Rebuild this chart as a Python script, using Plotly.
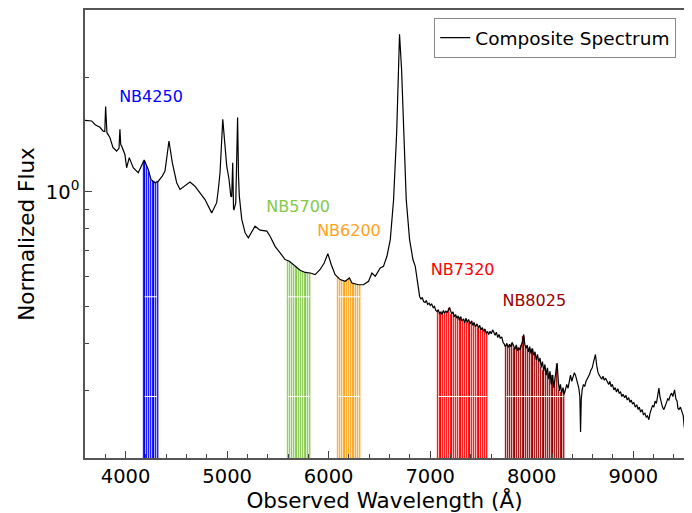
import numpy as np
import plotly.graph_objects as go

# ---- Composite spectrum (wavelength in Angstrom, normalized flux) ----
wavelength = [
    3600, 3665, 3700, 3747, 3779, 3795, 3803, 3811, 3816, 3845, 3875, 3911, 3935, 3944, 3952,
    3961, 3993, 4010, 4036, 4075, 4124, 4183, 4223, 4250, 4289, 4322, 4361, 4388, 4427, 4460,
    4503, 4536, 4585, 4634, 4683, 4733, 4782, 4848, 4897, 4913, 4930, 4957, 4979, 4996, 5019,
    5036, 5045, 5055, 5063, 5068, 5085, 5096, 5103, 5112, 5120, 5144, 5177, 5209, 5243, 5275,
    5324, 5391, 5423, 5472, 5522, 5571, 5613, 5670, 5719, 5768, 5818, 5867, 5916, 5956, 5992,
    6025, 6064, 6113, 6163, 6205, 6229, 6294, 6343, 6393, 6426, 6459, 6508, 6540, 6574, 6607,
    6639, 6670, 6685, 6698, 6718, 6738, 6764, 6797, 6830,
    6853, 6865, 6876, 6886, 6896, 6910, 6922, 6935, 6950, 6962, 6975, 6990, 7001, 7015, 7030,
    7042, 7055, 7067, 7080, 7092, 7105, 7116, 7130, 7142, 7155, 7168, 7180, 7191, 7200, 7212,
    7225, 7237, 7250, 7262, 7275, 7288, 7300, 7313, 7329, 7340, 7352, 7365, 7378, 7395, 7408,
    7420, 7432, 7445, 7462, 7475, 7488, 7500, 7513, 7527, 7540, 7552, 7565, 7576, 7590, 7602,
    7615, 7625, 7640, 7652, 7665, 7678, 7691, 7705, 7718, 7730, 7741, 7755, 7768, 7782, 7795,
    7808, 7822, 7835, 7848, 7860, 7872, 7885, 7898, 7910, 7921, 7932, 7945, 7955, 7968, 7980,
    7993, 8005, 8020, 8032, 8045, 8057, 8069, 8082, 8094, 8106, 8118, 8130, 8142, 8155, 8168,
    8180, 8192, 8205, 8217, 8228, 8240, 8250, 8262, 8272, 8283, 8295, 8308, 8320, 8332, 8345,
    8358, 8370, 8382, 8395, 8408, 8420, 8431, 8445, 8455, 8464, 8474, 8481, 8488, 8497, 8510,
    8522, 8535, 8546, 8558, 8570, 8582, 8596, 8610, 8620, 8628, 8640, 8652, 8665, 8678, 8690,
    8702, 8715, 8728, 8744, 8758, 8770, 8782, 8795, 8809, 8822, 8835, 8848, 8862, 8875, 8888,
    8900, 8915, 8928, 8941, 8955, 8968, 8980, 8993, 9006, 9020, 9035, 9048, 9060, 9072, 9088,
    9100, 9115, 9128, 9140, 9154, 9165, 9178, 9190, 9203, 9215, 9228, 9240, 9253, 9263, 9275,
    9288, 9302, 9315, 9328, 9340, 9351, 9365, 9378, 9390, 9407, 9420, 9432, 9440, 9450, 9465,
    9480, 9493, 9500, 9506,
]
flux = [
    1.540, 1.534, 1.500, 1.476, 1.443, 1.440, 1.674, 1.430, 1.429, 1.389, 1.308, 1.279, 1.300, 1.459, 1.330,
    1.318, 1.253, 1.156, 1.229, 1.156, 1.122, 1.211, 1.145, 1.077, 1.056, 1.066, 1.099, 1.133, 1.359, 1.192,
    1.056, 1.014, 1.034, 1.060, 1.034, 0.994, 0.954, 0.880, 0.936, 1.014, 1.122, 1.549, 1.318, 1.168, 1.077,
    0.974, 0.970, 1.192, 0.900, 0.898, 0.936, 1.200, 1.566, 1.100, 0.974, 0.846, 0.780, 0.757, 0.788, 0.812,
    0.793, 0.788, 0.764, 0.719, 0.691, 0.664, 0.657, 0.637, 0.622, 0.614, 0.612, 0.606, 0.625, 0.650, 0.688,
    0.644, 0.606, 0.588, 0.582, 0.594, 0.576, 0.570, 0.570, 0.582, 0.612, 0.600, 0.631, 0.637, 0.677, 0.749,
    0.950, 1.430, 2.100, 2.590, 2.100, 1.400, 0.954, 0.749, 0.664,
    0.637, 0.600, 0.576, 0.545, 0.531, 0.522, 0.528, 0.515, 0.512, 0.518, 0.506, 0.510, 0.503, 0.507, 0.496,
    0.500, 0.488, 0.485, 0.490, 0.478, 0.484, 0.476, 0.488, 0.480, 0.486, 0.482, 0.492, 0.497, 0.488, 0.478,
    0.484, 0.470, 0.476, 0.466, 0.472, 0.460, 0.470, 0.458, 0.464, 0.452, 0.466, 0.454, 0.462, 0.450, 0.458,
    0.446, 0.454, 0.442, 0.450, 0.438, 0.446, 0.434, 0.440, 0.430, 0.436, 0.425, 0.430, 0.422, 0.430, 0.424,
    0.434, 0.428, 0.420, 0.428, 0.414, 0.422, 0.412, 0.416, 0.402, 0.398, 0.392, 0.400, 0.390, 0.398, 0.392,
    0.402, 0.394, 0.386, 0.396, 0.382, 0.390, 0.384, 0.396, 0.405, 0.422, 0.398, 0.388, 0.396, 0.380, 0.392,
    0.376, 0.388, 0.372, 0.380, 0.362, 0.374, 0.358, 0.366, 0.346, 0.358, 0.338, 0.352, 0.330, 0.345, 0.322,
    0.338, 0.312, 0.330, 0.306, 0.322, 0.345, 0.355, 0.318, 0.300, 0.312, 0.296, 0.306, 0.294, 0.302, 0.312,
    0.305, 0.322, 0.330, 0.318, 0.326, 0.335, 0.330, 0.320, 0.310, 0.305, 0.290, 0.234, 0.285, 0.302, 0.312,
    0.308, 0.318, 0.322, 0.328, 0.332, 0.340, 0.345, 0.358, 0.372, 0.374, 0.350, 0.336, 0.330, 0.325, 0.322,
    0.328, 0.320, 0.324, 0.316, 0.312, 0.318, 0.308, 0.312, 0.302, 0.306, 0.298, 0.304, 0.296, 0.298, 0.290,
    0.294, 0.288, 0.292, 0.284, 0.288, 0.280, 0.284, 0.277, 0.280, 0.272, 0.276, 0.268, 0.272, 0.264, 0.268,
    0.260, 0.262, 0.256, 0.258, 0.252, 0.262, 0.268, 0.275, 0.272, 0.282, 0.278, 0.290, 0.305, 0.290, 0.278,
    0.272, 0.268, 0.276, 0.280, 0.286, 0.284, 0.292, 0.296, 0.290, 0.302, 0.286, 0.282, 0.270, 0.268, 0.272,
    0.264, 0.258, 0.245, 0.238,
]

# ---- Narrow-band filters ----
band_names = ["NB4250", "NB5700", "NB6200", "NB7320", "NB8025"]
band_lo = [4175, 5585, 6080, 7068, 7732]
band_hi = [4322, 5826, 6320, 7570, 8326]
band_colors = ["#0000ff", "#85c94a", "#ffa31a", "#ff0000", "#9b0000"]
label_wl = [4250, 5700, 6200, 7320, 8025]
label_flux = [1.76, 0.909, 0.786, 0.621, 0.514]
white_levels = [0.53, 0.29]

x_ticks = [4000, 5000, 6000, 7000, 8000, 9000]
y_minor = [0.2, 0.3, 0.4, 0.5, 0.6, 0.7, 0.8, 0.9, 2, 3]

FONT = "DejaVu Sans"
wl = np.array(wavelength, dtype=float)
fl = np.array(flux, dtype=float)
step = 22.0

fig = go.Figure()

for name, lo, hi, col in zip(band_names, band_lo, band_hi, band_colors):
    xs = np.arange(lo + step / 2, hi, step)
    ys = np.interp(xs, wl, fl)
    fig.add_trace(go.Bar(
        x=xs, y=ys, width=step, marker=dict(color=col, line=dict(color="white", width=0.6)),
        showlegend=False, hoverinfo="skip"))
    for lev in white_levels:
        if ys.min() > lev:
            fig.add_trace(go.Scatter(
                x=[lo + 12, hi - 12], y=[lev, lev], mode="lines",
                line=dict(color="white", width=1), showlegend=False, hoverinfo="skip"))

fig.add_trace(go.Scatter(
    x=wavelength, y=flux, mode="lines", name="Composite Spectrum",
    line=dict(color="black", width=1.2)))

for name, x0, y0, col in zip(band_names, label_wl, label_flux, band_colors):
    fig.add_trace(go.Scatter(
        x=[x0], y=[y0], mode="text", text=[name], textposition="middle center",
        textfont=dict(family=FONT, size=16, color=col), showlegend=False, hoverinfo="skip"))

# page body has an 8px margin, so the figure is sized to fit the window
fig.update_layout(
    width=684, height=505,
    margin=dict(l=77, r=8, t=2, b=55),
    plot_bgcolor="white", paper_bgcolor="white",
    bargap=0,
    font=dict(family=FONT, color="black"),
    legend=dict(x=0.987, y=0.982, xanchor="right", yanchor="top",
                bgcolor="white", bordercolor="#888888", borderwidth=1,
                font=dict(family=FONT, size=18.5)),
)
fig.update_xaxes(
    range=[3600, 9500], showgrid=False, zeroline=False,
    tickvals=x_ticks, ticks="inside", ticklen=7, tickwidth=1.2, tickcolor="#444",
    minor=dict(dtick=200, ticks="inside", ticklen=4, tickwidth=1, tickcolor="#444"),
    showline=True, linecolor="#555", linewidth=1.5, mirror=True,
    tickfont=dict(family=FONT, size=19.5),
    title=dict(text="Observed Wavelength (Å)", font=dict(family=FONT, size=21.5), standoff=6),
    automargin=False,
)
fig.update_yaxes(
    type="log", range=[np.log10(0.2), np.log10(3.0)], showgrid=False, zeroline=False,
    tickvals=[1], ticktext=["10<sup>0</sup>"], ticks="inside", ticklen=7, tickwidth=1.2, tickcolor="#444",
    minor=dict(tickvals=y_minor, ticks="inside", ticklen=4, tickwidth=1, tickcolor="#444"),
    showline=True, linecolor="#555", linewidth=1.5, mirror=True,
    tickfont=dict(family=FONT, size=19.5),
    title=dict(text="Normalized Flux", font=dict(family=FONT, size=21.5), standoff=5),
    automargin=False,
)

fig.write_html("out.html")
